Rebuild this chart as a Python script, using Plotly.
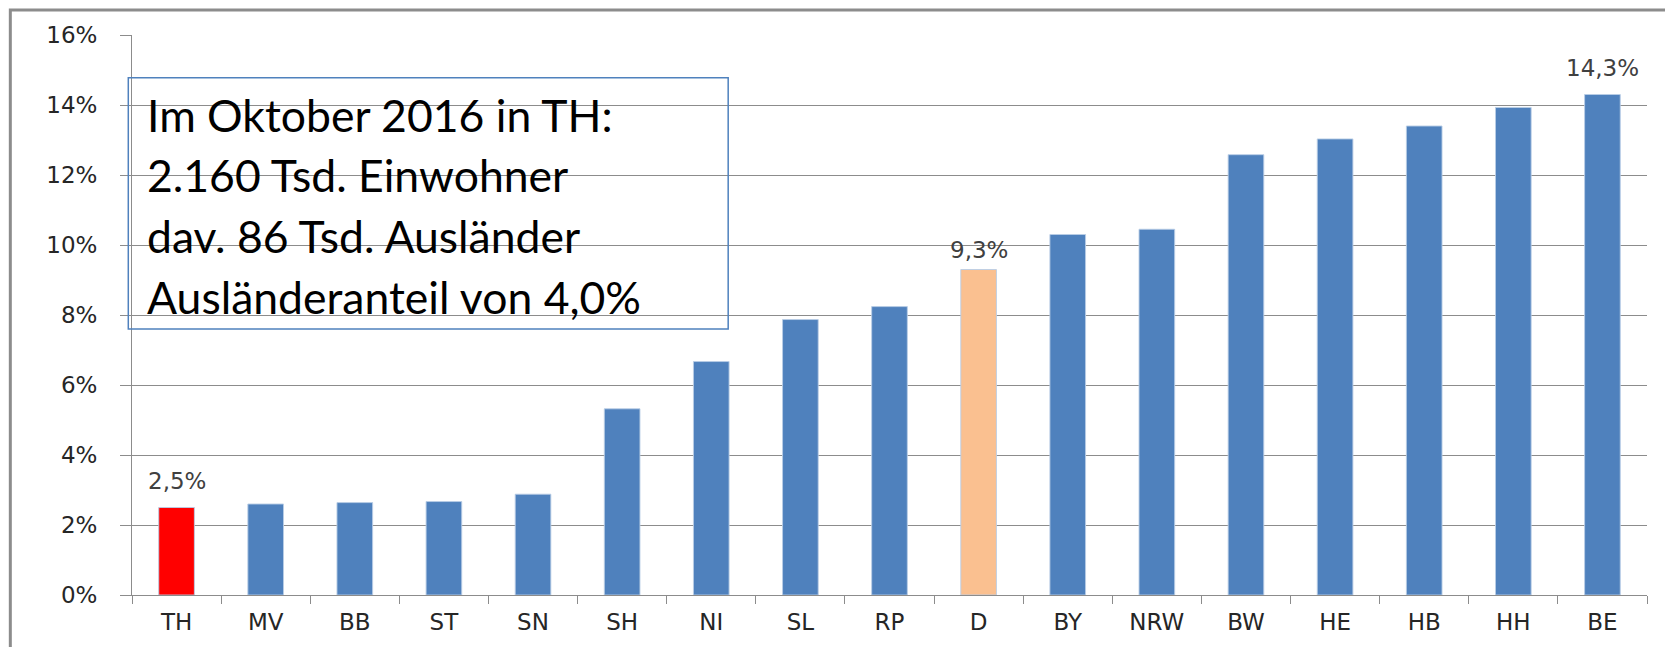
import plotly.graph_objects as go

categories = ["TH", "MV", "BB", "ST", "SN", "SH", "NI", "SL", "RP", "D",
              "BY", "NRW", "BW", "HE", "HB", "HH", "BE"]
shares = [2.5, 2.6, 2.64, 2.67, 2.88, 5.32, 6.67, 7.87, 8.24, 9.3,
          10.3, 10.45, 12.58, 13.03, 13.4, 13.93, 14.3]
labelled = ["TH", "D", "BE"]
info_lines = ["Im Oktober 2016 in TH:", "2.160 Tsd. Einwohner",
              "dav. 86 Tsd. Ausländer", "Ausländeranteil von 4,0%"]

BLUE = "#4F81BD"
RED = "#FF0000"
PEACH = "#FAC090"

colors = [RED if c == "TH" else PEACH if c == "D" else BLUE for c in categories]

# page offset caused by the default body margin of the html page
OFF = 8
PAGE_W, PAGE_H = 1673, 647
W, H = PAGE_W - OFF, PAGE_H - OFF
# plot area in page pixels
PL, PR, PT, PB = 131.7, 1647, 35, 597
L, T = PL - OFF, PT - OFF
R, B = W - (PR - OFF), H - (PB - OFF)

def px(x):
    return (x - PL) / (PR - PL)

def py(y):
    return (PB - y) / (PB - PT)

fig = go.Figure()
fig.add_trace(go.Bar(
    x=categories, y=shares,
    marker=dict(color=colors, line=dict(color="rgba(185,205,229,0.9)", width=1)),
    width=0.4,
))

label_gap = {"TH": 16, "D": 9, "BE": 16}
for c, v in zip(categories, shares):
    if c in labelled:
        fig.add_annotation(
            x=c, y=v, xref="x", yref="y", showarrow=False,
            yanchor="bottom", yshift=label_gap[c] - 4,
            text=f"{v:.1f}%".replace(".", ","),
            font=dict(family="DejaVu Sans", size=23, color="#404040"),
        )

grid = "#8C8C8C"
tickfont = dict(family="DejaVu Sans", size=23, color="#262626")
fig.update_layout(
    width=W, height=H,
    margin=dict(l=L, r=R, t=T, b=B, pad=0),
    paper_bgcolor="white", plot_bgcolor="white",
    showlegend=False,
    font=dict(family="DejaVu Sans", color="#404040"),
    xaxis=dict(
        type="category", showgrid=False, showline=True, linecolor=grid, linewidth=1,
        ticks="outside", tickson="boundaries", ticklen=8, tickcolor=grid,
        tickfont=tickfont, ticklabelstandoff=6,
        range=[-0.5, len(categories) - 0.5],
    ),
    yaxis=dict(
        range=[0, 16], dtick=2, ticksuffix="%",
        showgrid=True, gridcolor=grid, gridwidth=1,
        showline=True, linecolor=grid, linewidth=1,
        ticks="outside", ticklen=11, tickcolor=grid,
        tickfont=tickfont, ticklabelstandoff=18,
        zeroline=False,
    ),
)

# outer frame (extends beyond the right and bottom edges)
fig.add_shape(type="rect", xref="paper", yref="paper",
              x0=px(10), x1=px(PAGE_W + 20), y0=py(PAGE_H + 20), y1=py(10),
              line=dict(color="#8C8C8C", width=3), fillcolor="rgba(0,0,0,0)",
              layer="above")

# info box
fig.add_shape(type="rect", xref="paper", yref="paper",
              x0=px(128), x1=px(728), y0=py(330), y1=py(78),
              line=dict(color=BLUE, width=1.5), fillcolor="rgba(0,0,0,0)",
              layer="above")

centers = [114.5, 175.3, 236.1, 297.0]
for line, yc in zip(info_lines, centers):
    fig.add_annotation(
        xref="paper", yref="paper", x=px(145), y=py(yc),
        xanchor="left", yanchor="middle", showarrow=False,
        text=line, font=dict(family="Lato", size=44.5, color="black"),
    )

fig.write_html("out.html")
